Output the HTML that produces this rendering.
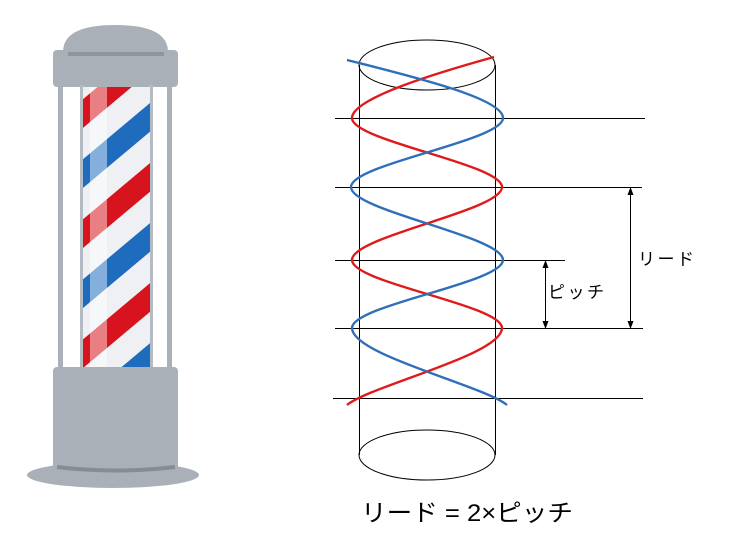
<!DOCTYPE html>
<html><head><meta charset="utf-8">
<style>
html,body{margin:0;padding:0;background:#fff;}
svg{display:block;}
text{font-family:"Liberation Sans","Noto Sans CJK JP",sans-serif;fill:#000;}
</style></head>
<body>
<svg width="743" height="548" viewBox="0 0 743 548" xmlns="http://www.w3.org/2000/svg">
<defs>
<pattern id="st" patternUnits="userSpaceOnUse" width="200" height="92" patternTransform="translate(82,100) rotate(-40)">
<rect x="0" y="0" width="200" height="92" fill="#eef0f4"/>
<rect x="0" y="0" width="200" height="22" fill="#d7141e"/>
<rect x="0" y="46" width="200" height="22" fill="#1f6cbf"/>
</pattern>
</defs>
<!-- barber pole -->
<path d="M63 52 Q63 25 115 25 Q168 25 168 52 Z" fill="#a9b0b8"/>
<rect x="53" y="50" width="125" height="37" rx="4" fill="#a9b0b8"/>
<rect x="68" y="52" width="96" height="4" fill="#8f959c"/>
<rect x="58" y="85" width="5" height="285" fill="#a9b0b8"/>
<rect x="167" y="85" width="5" height="285" fill="#a9b0b8"/>
<rect x="80" y="85" width="4" height="285" fill="#b5bbc2"/>
<rect x="149" y="85" width="4" height="285" fill="#b5bbc2"/>
<rect x="83" y="87" width="67" height="282" fill="url(#st)"/>
<rect x="90" y="87" width="17" height="282" fill="#fff" opacity="0.45"/>
<ellipse cx="113" cy="475" rx="86" ry="13" fill="#a9b0b8"/>
<rect x="53" y="367" width="125" height="106" rx="4" fill="#a9b0b8"/>
<path d="M57 467 Q115 474 175 467" stroke="#868c93" stroke-width="4" fill="none"/>
<!-- cylinder -->
<g fill="none" stroke="#000" stroke-width="1">
<ellipse cx="427" cy="65" rx="68" ry="25"/>
<ellipse cx="427" cy="455" rx="68" ry="25"/>
<line x1="359.5" y1="65" x2="359.5" y2="455"/>
<line x1="495.5" y1="65" x2="495.5" y2="455"/>
<line x1="335" y1="118.5" x2="645" y2="118.5"/>
<line x1="335" y1="187.5" x2="642" y2="187.5"/>
<line x1="335" y1="260.5" x2="565" y2="260.5"/>
<line x1="335" y1="328.5" x2="643" y2="328.5"/>
<line x1="333" y1="398.5" x2="643" y2="398.5"/>
<line x1="630.5" y1="192" x2="630.5" y2="323"/>
<line x1="545.5" y1="265" x2="545.5" y2="323"/>
</g>
<g fill="#000">
<path d="M630.5 187 L627.5 195 L633.5 195 Z"/>
<path d="M630.5 329 L627.5 321 L633.5 321 Z"/>
<path d="M545.5 260 L542.5 268 L548.5 268 Z"/>
<path d="M545.5 329 L542.5 321 L548.5 321 Z"/>
</g>
<!-- helices -->
<path d="M494 57 C440 72 352 98 352 118 C352 141 502 164 502 187 C502 211 352 236 352 260 C352 283 502 305 502 328 C502 355 372 385 347 405" fill="none" stroke="#e01a1a" stroke-width="2.4"/>
<path d="M347 60 C410 76 503 98 503 118 C503 141 351 164 351 187 C351 211 503 236 503 260 C503 283 352 305 352 328 C352 355 482 385 507 405" fill="none" stroke="#2f6fba" stroke-width="2.4"/>
<text x="638" y="265" font-size="17" textLength="56">リード</text>
<text x="548" y="298" font-size="17" textLength="56">ピッチ</text>
<text x="361" y="521" font-size="24" textLength="212" lengthAdjust="spacingAndGlyphs">リード = 2×ピッチ</text>
</svg>
</body></html>
